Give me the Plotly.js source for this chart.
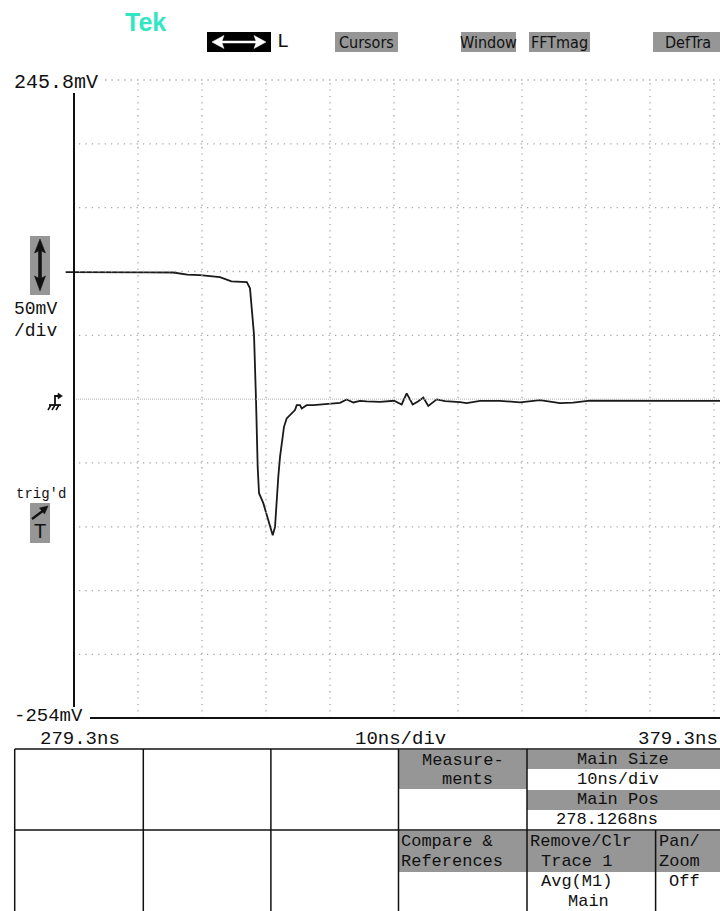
<!DOCTYPE html>
<html>
<head>
<meta charset="utf-8">
<script src="https://cdn.plot.ly/plotly-3.0.1.min.js"></script>
<style>html,body{margin:0;padding:0;background:#fff;}#chart{width:720px;height:911px;}</style>
</head>
<body>
<div id="chart"></div>
<script>
// ---- data ----
const timeNs = [278.0, 281.5, 285.0, 288.0, 291.0, 294.8, 297.0, 299.0, 302.1, 303.9, 305.0, 306.3, 306.8, 307.07, 307.43, 307.74, 307.85, 308.0, 308.21, 308.88, 309.5, 309.93, 310.35, 310.71, 310.97, 311.22, 311.49, 311.75, 312.11, 312.53, 313.32, 313.83, 314.1, 314.61, 314.88, 315.66, 316.69, 318.78, 320.86, 321.91, 322.94, 323.99, 325.03, 327.11, 329.3, 330.5, 331.28, 332.22, 333.05, 333.88, 334.66, 335.97, 337.27, 339.61, 340.66, 342.74, 345.86, 348.99, 352.11, 355.24, 357.27, 359.92, 364.61, 369.3, 373.99, 380.24];
const signalMv = [95.3, 95.1, 95.4, 95.2, 95.1, 95.0, 93.3, 93.0, 91.4, 88.0, 87.6, 87.4, 82.6, 65.5, 45.9, -5.0, -28.5, -57.3, -77.9, -85.7, -96.4, -104.3, -110.8, -104.3, -80.8, -65.1, -49.4, -38.7, -25.9, -19.3, -15.4, -12.8, -8.9, -8.9, -11.5, -8.9, -8.9, -8.1, -7.1, -4.4, -6.8, -5.5, -6.0, -6.3, -5.5, -8.4, 0.3, -8.4, -6.0, -2.9, -9.5, -4.4, -5.8, -6.5, -7.3, -5.5, -5.5, -6.8, -5.0, -7.3, -7.0, -5.3, -5.5, -5.3, -5.5, -5.5];
const timeTicks = [279.3, 289.3, 299.3, 309.3, 319.3, 329.3, 339.3, 349.3, 359.3, 369.3, 379.3];
const voltLevels = [245.8, 195.8, 145.8, 95.8, 45.8, -4.2, -54.2, -104.2, -154.2, -204.2, -254];
const groundLevel = -4.2;
const topLabel = '245.8mV';
const bottomLabel = '-254mV';
const timeLabels = ['279.3ns', '10ns/div', '379.3ns'];
const scaleLabels = ['50mV', '/div'];
const menuLabels = ['Cursors', 'Window', 'FFTmag', 'DefTra'];

// ---- geometry helpers (page pixels -> paper) ----
const L = 60, R = 720, T = 78, B = 720;
const X = px => (px - L) / (R - L);
const Y = py => (B - py) / (B - T);
const nsPerPx = 10 / 64;
const mvPerPx = 50 / 63.8;
const xRange = [279.3 - (74 - L) * nsPerPx, 279.3 + (R - 74) * nsPerPx];
const yRange = [-254 - (B - 718) * mvPerPx, 245.8 + (80 - T) * mvPerPx];
const xAt = px => 279.3 + (px - 74) * nsPerPx;

const mono = 'Liberation Mono, DejaVu Sans Mono, monospace';
const narrow = 'Liberation Sans Narrow, DejaVu Sans Condensed, Liberation Mono, monospace';
const GRAY = '#969696';
const INK = '#111111';

const shapes = [];
const annotations = [];

// grid (vertical)
timeTicks.slice(1).forEach(t => shapes.push({type:'line', xref:'x', yref:'y', x0:t, x1:t, y0:voltLevels[voltLevels.length-1], y1:voltLevels[0], line:{color:'#a8a8a8', width:1.3, dash:'1.3px,5.1px'}}));
// grid (horizontal)
voltLevels.slice(0, -1).forEach((v, i) => {
  if (v === groundLevel) {
    shapes.push({type:'line', xref:'x', yref:'y', x0:timeTicks[0], x1:xRange[1], y0:v, y1:v, line:{color:'#b0b0b0', width:1, dash:'1px,1px'}});
  } else {
    shapes.push({type:'line', xref:'x', yref:'y', x0: i === 0 ? xAt(105) : xAt(79), x1:xRange[1], y0:v, y1:v, line:{color:'#a8a8a8', width:1.3, dash:'1.3px,5.1px'}});
  }
});
// axis lines
shapes.push({type:'line', xref:'x', yref:'y', x0:timeTicks[0], x1:timeTicks[0], y0:voltLevels[0] - 13*mvPerPx, y1:voltLevels[voltLevels.length-1] + 11*mvPerPx, line:{color:INK, width:2}});
shapes.push({type:'line', xref:'x', yref:'y', x0:xAt(90), x1:xRange[1], y0:voltLevels[voltLevels.length-1], y1:voltLevels[voltLevels.length-1], line:{color:INK, width:2}});

// helpers for paper shapes
function rect(x0, y0, x1, y1, fill) {
  shapes.push({type:'rect', xref:'paper', yref:'paper', x0:X(x0), x1:X(x1), y0:Y(y1), y1:Y(y0), fillcolor:fill, line:{width:0}, layer:'above'});
}
function seg(x0, y0, x1, y1, w, c) {
  shapes.push({type:'line', xref:'paper', yref:'paper', x0:X(x0), x1:X(x1), y0:Y(y0), y1:Y(y1), line:{color:c || INK, width:w || 1.5}});
}
function poly(pts, fill, closed, w) {
  let d = pts.map((p, i) => (i ? 'L' : 'M') + X(p[0]).toFixed(5) + ',' + Y(p[1]).toFixed(5)).join(' ');
  if (closed) d += ' Z';
  shapes.push({type:'path', xref:'paper', yref:'paper', path:d, fillcolor: closed ? fill : 'rgba(0,0,0,0)', line:{color: closed ? fill : INK, width: w || (closed ? 0.5 : 1.6)}});
}
function txt(s, px, py, opts) {
  opts = opts || {};
  annotations.push({xref:'paper', yref:'paper', x:X(px), y:Y(py), text:s, showarrow:false,
    xanchor: opts.xa || 'left', yanchor:'middle', borderpad:0,
    font:{family: opts.family || mono, size: opts.size || 20, color: opts.color || INK, weight: opts.weight || 'normal'}});
}

// ---- header ----
txt('Tek', 124, 22, {family:'Liberation Sans, Arial, sans-serif', size:25, weight:'bold', color:'#33e6c2'});
rect(207, 32, 271, 52, '#000000');
poly([[212,42],[224,35.5],[222,41],[256,41],[254,35.5],[266,42],[254,48.5],[256,43],[222,43],[224,48.5]], '#ffffff', true);
txt('L', 276, 42, {size:20});
const menuBoxes = [[335,398],[461,516],[529,590],[653,722]];
menuLabels.forEach((m, i) => {
  rect(menuBoxes[i][0], 32, menuBoxes[i][1], 52, GRAY);
  txt(m, (menuBoxes[i][0] + menuBoxes[i][1]) / 2, 42.5, {family:narrow, size:16, xa:'center'});
});

// ---- left side ----
txt(topLabel, 13, 82);
rect(30, 236, 50, 295, GRAY);
poly([[40,239],[34.5,253],[38.5,251],[38.5,278],[34.5,276],[40,291],[45.5,276],[41.5,278],[41.5,251],[45.5,253]], INK, true);
txt(scaleLabels[0], 13, 309, {size:18});
txt(scaleLabels[1], 13, 331, {size:18});
// ground symbol
poly([[55,405],[55,396],[61,396]], null, false, 1.8);
poly([[62.5,396],[58,393],[58,399]], INK, true);
poly([[49,405],[61,405]], null, false, 1.8);
poly([[51,405],[48,410]], null, false, 1.5);
poly([[55,405],[52,410]], null, false, 1.5);
poly([[59,405],[56,410]], null, false, 1.5);
// trigger
txt("trig'd", 15, 494, {size:14});
rect(30, 503, 50, 543, GRAY);
poly([[32,519],[44,510]], null, false, 2.2);
poly([[48,506],[39.5,508],[44.5,514]], INK, true);
txt('T', 40, 531, {size:20, xa:'center', family:'Liberation Sans, Arial, sans-serif', weight:'normal'});

txt(bottomLabel, 13, 716, {size:19});
txt(timeLabels[0], 39, 739, {size:19});
txt(timeLabels[1], 400, 739, {xa:'center', size:19});
txt(timeLabels[2], 719, 739, {xa:'right', size:19});

// ---- bottom table ----
rect(399, 750, 527, 789, GRAY);
rect(527, 750, 720, 769, GRAY);
rect(527, 790, 720, 810, GRAY);
rect(399, 831, 527, 872, GRAY);
rect(527, 831, 655.6, 872, GRAY);
rect(655.6, 831, 720, 872, GRAY);
seg(14.7, 749, 720, 749);
seg(14.7, 830, 720, 830);
[14.7, 143.3, 270.9, 398.5, 527].forEach(x => seg(x, 749, x, 911));
seg(655.6, 830, 655.6, 911);

const ts = 17;
txt('Measure-', 463, 760, {xa:'center', size:ts});
txt('ments', 467, 779.8, {xa:'center', size:ts});
txt('Main Size', 623, 759.8, {xa:'center', size:ts});
txt('10ns/div', 618, 779.8, {xa:'center', size:ts});
txt('Main Pos', 618, 799.8, {xa:'center', size:ts});
txt('278.1268ns', 607, 819.8, {xa:'center', size:ts});
txt('Compare &amp;', 400, 841.5, {size:ts});
txt('References', 400, 861.5, {size:ts});
txt('Remove/Clr', 529, 841.5, {size:ts});
txt('Trace 1', 540, 861.5, {size:ts});
txt('Pan/', 658, 841.5, {size:ts});
txt('Zoom', 658, 861.5, {size:ts});
txt('Avg(M1)', 540, 881.5, {size:ts});
txt('Main', 567, 901.5, {size:ts});
txt('Off', 668, 881.5, {size:ts});

const trace = {x: timeNs, y: signalMv, type:'scatter', mode:'lines', line:{color:'#1a1a1a', width:1.8}, hoverinfo:'skip'};

const layout = {
  width: 720, height: 911,
  margin: {l: L, r: 720 - R, t: T, b: 911 - B, pad: 0},
  paper_bgcolor: '#ffffff', plot_bgcolor: '#ffffff',
  showlegend: false,
  xaxis: {range: xRange, visible: false, fixedrange: true},
  yaxis: {range: yRange, visible: false, fixedrange: true},
  shapes: shapes,
  annotations: annotations
};

Plotly.newPlot('chart', [trace], layout, {displayModeBar: false, staticPlot: true});
</script>
</body>
</html>
